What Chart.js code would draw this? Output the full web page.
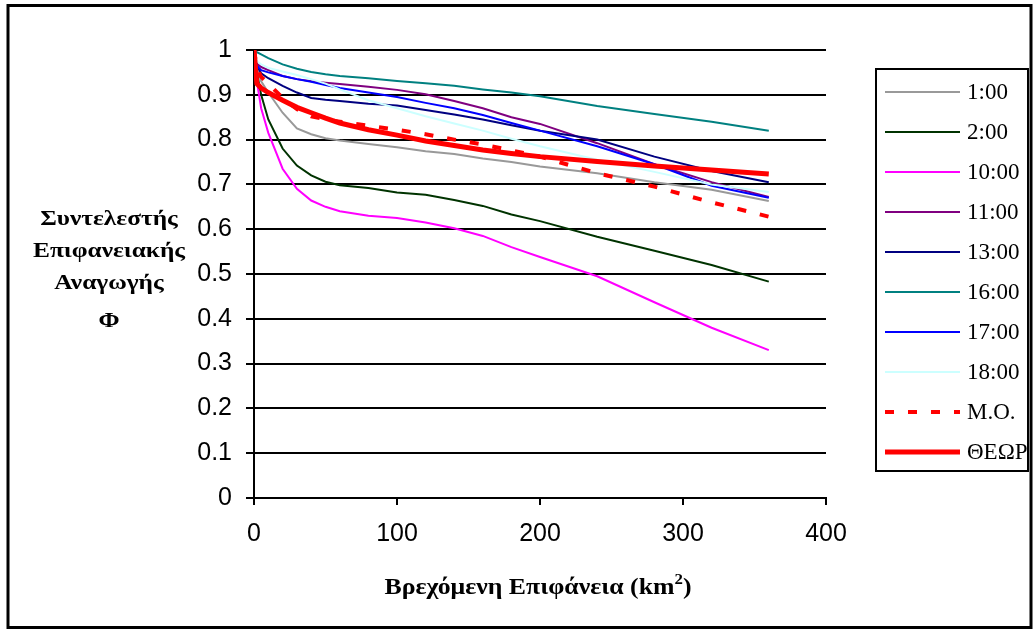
<!DOCTYPE html>
<html><head><meta charset="utf-8">
<script src="https://cdn.jsdelivr.net/npm/chart.js@4.4.0/dist/chart.umd.min.js"></script>
<style>html,body{margin:0;padding:0;background:#fff;} #c{display:block;}</style>
</head><body>
<canvas id="c" width="1034" height="632"></canvas>
<script>
// ---- data ----
const xValues = [0, 2, 5, 10, 20, 30, 40, 50, 60, 80, 100, 120, 140, 160, 180, 200, 240, 280, 320, 360];
const seriesNames = ['1:00', '2:00', '10:00', '11:00', '13:00', '16:00', '17:00', '18:00', 'M.O.', 'ΘΕΩΡ'];
const s0100 = [1.0, 0.96, 0.93, 0.905, 0.86, 0.825, 0.812, 0.803, 0.798, 0.79, 0.783, 0.774, 0.768, 0.758, 0.75, 0.74, 0.725, 0.705, 0.688, 0.663];
const s0200 = [1.0, 0.95, 0.90, 0.845, 0.78, 0.742, 0.72, 0.706, 0.698, 0.692, 0.682, 0.677, 0.665, 0.652, 0.633, 0.618, 0.583, 0.552, 0.52, 0.483];
const s1000 = [1.0, 0.93, 0.87, 0.815, 0.735, 0.69, 0.664, 0.65, 0.64, 0.63, 0.625, 0.615, 0.602, 0.585, 0.56, 0.538, 0.495, 0.437, 0.38, 0.33];
const s1100 = [1.0, 0.97, 0.962, 0.955, 0.942, 0.935, 0.93, 0.927, 0.924, 0.918, 0.911, 0.901, 0.886, 0.87, 0.85, 0.835, 0.792, 0.745, 0.705, 0.672];
const s1300 = [1.0, 0.965, 0.948, 0.937, 0.92, 0.905, 0.893, 0.889, 0.886, 0.88, 0.876, 0.866, 0.856, 0.845, 0.832, 0.82, 0.8, 0.762, 0.73, 0.705];
const s1600 = [1.0, 0.995, 0.99, 0.982, 0.968, 0.958, 0.951, 0.946, 0.942, 0.937, 0.931, 0.926, 0.92, 0.912, 0.905, 0.897, 0.875, 0.857, 0.84, 0.82];
const s1700 = [0.985, 0.965, 0.955, 0.95, 0.942, 0.935, 0.929, 0.922, 0.915, 0.905, 0.895, 0.882, 0.87, 0.855, 0.837, 0.82, 0.785, 0.745, 0.697, 0.67];
const s1800 = [1.0, 0.975, 0.968, 0.96, 0.952, 0.944, 0.935, 0.925, 0.912, 0.888, 0.87, 0.852, 0.836, 0.82, 0.802, 0.785, 0.755, 0.728, 0.7, 0.683];
const sMO   = [1.0, 0.96, 0.94, 0.925, 0.893, 0.868, 0.852, 0.845, 0.84, 0.831, 0.822, 0.812, 0.8, 0.789, 0.776, 0.762, 0.725, 0.695, 0.66, 0.628];
const sTheor= [1.0, 0.925, 0.915, 0.905, 0.888, 0.872, 0.86, 0.848, 0.837, 0.822, 0.81, 0.797, 0.787, 0.777, 0.769, 0.762, 0.751, 0.741, 0.732, 0.723];
const yTickLabels = ['0', '0.1', '0.2', '0.3', '0.4', '0.5', '0.6', '0.7', '0.8', '0.9', '1'];
const xTickLabels = ['0', '100', '200', '300', '400'];
const yTitleLines = ['Συντελεστής', 'Επιφανειακής', 'Αναγωγής', 'Φ'];
const xTitleMain = 'Βρεχόμενη Επιφάνεια (km';
const xTitleSup = '2';
const xTitleEnd = ')';

const allSeries = [s0100, s0200, s1000, s1100, s1300, s1600, s1700, s1800, sMO, sTheor];
const colors = ['#999999', '#003300', '#FF00FF', '#800080', '#000080', '#008080', '#0000FF', '#CCFFFF', '#FF0000', '#FF0000'];
const widths = [2, 2, 2, 2, 2, 2, 2, 2, 4, 5];
const dashes = [[], [], [], [], [], [], [], [], [9, 14], []];

const datasets = allSeries.map((arr, i) => ({
  label: seriesNames[i],
  data: arr.map((v, j) => ({x: xValues[j], y: v})),
  borderColor: colors[i],
  backgroundColor: colors[i],
  borderWidth: widths[i],
  borderDash: dashes[i],
  showLine: true,
  pointRadius: 0,
  tension: 0,
  fill: false,
  order: allSeries.length - i
}));

const SERIF = '"Liberation Serif", "Times New Roman", serif';

const decor = {
  id: 'decor',
  afterDraw(chart) {
    const ctx = chart.ctx;
    ctx.save();
    // outer frame
    ctx.strokeStyle = '#000';
    ctx.lineWidth = 3;
    ctx.strokeRect(8, 5.5, 1023, 622);
    // y title (wide bold serif, as in the original)
    ctx.fillStyle = '#000';
    ctx.font = 'bold 21px ' + SERIF;
    ctx.textBaseline = 'middle';
    ctx.textAlign = 'center';
    const refW = ctx.measureText(yTitleLines[1]).width;
    const sx = 152 / refW;
    const ys = [220, 252, 284, 322];
    yTitleLines.forEach((t, i) => {
      ctx.save();
      ctx.translate(109, ys[i]);
      ctx.scale(sx, 1);
      ctx.fillText(t, 0, 0);
      ctx.restore();
    });
    // x title with superscript
    ctx.font = 'bold 23px ' + SERIF;
    ctx.textAlign = 'left';
    const w1 = ctx.measureText(xTitleMain).width;
    ctx.font = 'bold 15px ' + SERIF;
    const w2 = ctx.measureText(xTitleSup).width;
    ctx.font = 'bold 23px ' + SERIF;
    const w3 = ctx.measureText(xTitleEnd).width;
    const total = w1 + w2 + w3;
    const sx2 = 307 / total;
    ctx.save();
    ctx.translate(538 - 307 / 2, 588);
    ctx.scale(sx2, 1);
    ctx.fillText(xTitleMain, 0, 0);
    ctx.font = 'bold 15px ' + SERIF;
    ctx.fillText(xTitleSup, w1, -8);
    ctx.font = 'bold 23px ' + SERIF;
    ctx.fillText(xTitleEnd, w1 + w2, 0);
    ctx.restore();
    // legend box
    ctx.lineWidth = 2;
    ctx.strokeStyle = '#000';
    ctx.strokeRect(876, 69, 152, 402);
    ctx.font = '23px ' + SERIF;
    ctx.textAlign = 'left';
    chart.data.datasets.forEach((ds, i) => {
      const y = 92 + i * 40;
      ctx.beginPath();
      ctx.strokeStyle = ds.borderColor;
      ctx.lineWidth = ds.borderWidth;
      ctx.setLineDash(ds.borderDash || []);
      ctx.moveTo(885, y);
      ctx.lineTo(960, y);
      ctx.stroke();
      ctx.setLineDash([]);
      ctx.fillStyle = '#000';
      ctx.fillText(ds.label, 967, y + 1);
    });
    ctx.restore();
  }
};

new Chart(document.getElementById('c'), {
  type: 'scatter',
  data: { datasets },
  options: {
    responsive: false,
    devicePixelRatio: 1,
    animation: false,
    layout: { padding: { left: 0, top: 50, right: 208, bottom: 0 } },
    plugins: { legend: { display: false }, tooltip: { enabled: false } },
    scales: {
      x: {
        type: 'linear', min: 0, max: 400,
        afterFit(s) { s.height = 134; },
        afterBuildTicks(s) { s.ticks = xTickLabels.map(v => ({value: Number(v)})); },
        ticks: {
          color: '#000', padding: 14,
          font: { family: '"Liberation Sans", Arial, sans-serif', size: 25 },
          callback: (v) => xTickLabels.find(t => Number(t) === v) ?? ''
        },
        grid: { drawOnChartArea: false, drawTicks: true, tickLength: 7, color: '#000', lineWidth: 2 },
        border: { color: '#000', width: 2 }
      },
      y: {
        type: 'linear', min: 0, max: 1,
        afterFit(s) { s.width = 254; },
        afterBuildTicks(s) { s.ticks = yTickLabels.map(v => ({value: Number(v)})); },
        ticks: {
          color: '#000', padding: 14,
          font: { family: '"Liberation Sans", Arial, sans-serif', size: 25 },
          callback: (v) => yTickLabels.find(t => Math.abs(Number(t) - v) < 1e-9) ?? ''
        },
        grid: { color: '#000', lineWidth: 2, tickLength: 8 },
        border: { color: '#000', width: 2 }
      }
    }
  },
  plugins: [decor]
});
</script>
</body></html>
